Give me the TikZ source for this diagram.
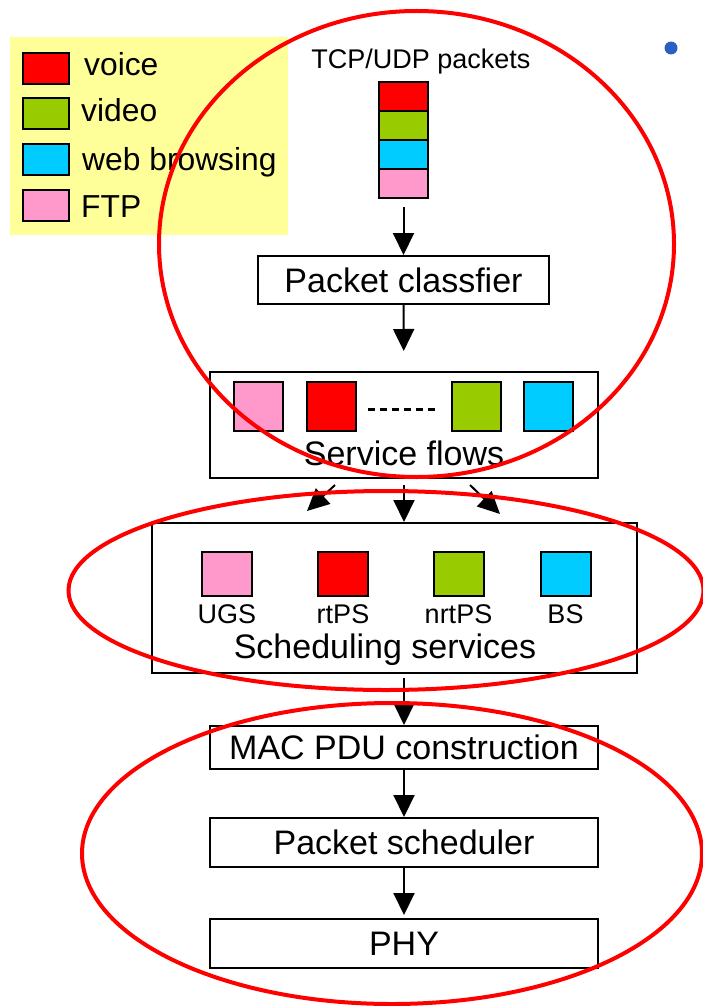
\documentclass[tikz,border=0pt]{standalone}
\usepackage{fontspec}
\setmainfont{Liberation Sans}
\usetikzlibrary{positioning, arrows.meta, shapes.geometric, calc}
\definecolor{pktred}{RGB}{255,0,0}
\definecolor{pktgreen}{RGB}{153,204,0}
\definecolor{pktcyan}{RGB}{0,204,255}
\definecolor{pktpink}{RGB}{255,153,204}
\definecolor{notepad}{RGB}{255,255,153}
\definecolor{bulletblue}{RGB}{45,95,195}
\newcommand{\BigText}{\fontsize{34}{40}\selectfont}
\newcommand{\MidText}{\fontsize{31.8}{37}\selectfont}
\newcommand{\SmallText}{\fontsize{27}{32}\selectfont}
\tikzset{
    swatch/.style={draw, line width=2pt, inner sep=0pt, outer sep=0pt},
    key/.style={swatch, minimum width=46pt, minimum height=31pt},
    packet/.style={swatch, minimum width=49pt, minimum height=29pt},
    sq/.style={swatch, minimum size=49pt},
    svc/.style={swatch, minimum width=50pt, minimum height=44pt},
    block/.style={draw, line width=2pt, inner sep=0pt, minimum width=388pt, font=\BigText},
    tag/.style={inner sep=0pt, font=\SmallText},
    flow/.style={line width=2pt, -{Triangle[length=22pt, width=21pt]}},
    ring/.style={ellipse, draw=red, line width=4pt, inner sep=0pt},
}

\begin{document}
\begin{tikzpicture}[x=1pt, y=-1pt]
    \useasboundingbox (0,0) rectangle (703,1006);

    % legend
    \node[fill=notepad, inner sep=0pt, minimum width=278pt, minimum height=197pt] (legend) at (149,136) {};
    \node[key, fill=pktred] (lvoice) at (46,68.5) {};
    \node[key, fill=pktgreen, below=14.5pt of lvoice] (lvideo) {};
    \node[key, fill=pktcyan, below=14.5pt of lvideo] (lweb) {};
    \node[key, fill=pktpink, below=14.5pt of lweb] (lftp) {};
    \node[anchor=base west, inner sep=0pt, font=\MidText] (tvoice) at ($(lvoice.east)+(15,7.5)$) {voice};
    \node[anchor=base west, inner sep=0pt, font=\MidText] (tvideo) at ($(lvideo.east)+(12,7.5)$) {video};
    \node[anchor=base west, inner sep=0pt, font=\MidText] (tweb) at ($(lweb.east)+(13,11)$) {web browsing};
    \node[anchor=base west, inner sep=0pt, font=\MidText] (tftp) at ($(lftp.east)+(12,12)$) {FTP};

    % incoming packets
    \node[tag] (tcpudp) at (421,62) {TCP/UDP packets};
    \node[packet, fill=pktred] (pk1) at (403.5,96.5) {};
    \node[packet, fill=pktgreen, below=0pt of pk1] (pk2) {};
    \node[packet, fill=pktcyan, below=0pt of pk2] (pk3) {};
    \node[packet, fill=pktpink, below=0pt of pk3] (pk4) {};

    \node[block, minimum width=291pt, minimum height=48pt] (classifier) at (403.5,280) {Packet classfier};

    % service flows
    \node[block, minimum height=106pt] (flows) at (404,425) {};
    \node[sq, fill=pktpink] (sf1) at (258.5,406.5) {};
    \node[sq, fill=pktred] (sf2) at (331.5,406.5) {};
    \node[sq, fill=pktgreen] (sf3) at (476.5,406.5) {};
    \node[sq, fill=pktcyan] (sf4) at (548.5,406.5) {};
    \draw[line width=3pt, dash pattern=on 7pt off 5pt] ($(sf2.east)+(12,2.5)$) -- ($(sf3.west)+(-15,2.5)$);
    \node[anchor=base, inner sep=0pt, font=\BigText] (flowstxt) at (404,465) {Service flows};

    % scheduling services
    \node[block, minimum width=485pt, minimum height=150pt] (sched) at (394.5,598) {};
    \node[svc, fill=pktpink] (ugs) at (227,573.5) {};
    \node[svc, fill=pktred] (rtps) at (343,573.5) {};
    \node[svc, fill=pktgreen] (nrtps) at (458.5,573.5) {};
    \node[svc, fill=pktcyan] (bs) at (565.5,573.5) {};
    \node[tag, below=9pt of ugs] (ugstxt) {UGS};
    \node[tag, below=9pt of rtps] (rtpstxt) {rtPS};
    \node[tag, below=9pt of nrtps] (nrtpstxt) {nrtPS};
    \node[tag, below=9pt of bs] (bstxt) {BS};
    \node[anchor=base, inner sep=0pt, font=\BigText] (schedtxt) at (385,658) {Scheduling services};

    \node[block, minimum height=43pt] (mac) at (404,747.5) {MAC PDU construction};
    \node[block, minimum height=49pt] (psched) at (404,842.5) {Packet scheduler};
    \node[block, minimum height=49pt] (phy) at (404,943.5) {PHY};

    % arrows
    \draw[flow, shorten <=9pt] (pk4) -- (classifier);
    \draw[flow, shorten >=20pt] (classifier) -- (flows);
    \draw[flow, shorten <=6pt] (flows.south) -- (flows.south |- sched.north);
    \coordinate (fleft) at (307,511);
    \coordinate (fright) at (500,514);
    \draw[flow] ($(flows.south)+(-69,6)$) -- (fleft);
    \draw[flow] ($(flows.south)+(66,6)$) -- (fright);
    \draw[flow, shorten <=4pt] (sched.south -| mac.north) -- (mac);
    \draw[flow] (mac) -- (psched);
    \draw[flow, shorten >=3pt] (psched) -- (phy);

    % red marks
    \node[ring, minimum width=515pt, minimum height=466pt] (ringtop) at (416.5,244) {};
    \node[ring, minimum width=635pt, minimum height=199pt] (ringmid) at (386,590.5) {};
    \node[ring, minimum width=620pt, minimum height=301pt] (ringlow) at (392,853.5) {};

    \node[circle, fill=bulletblue, inner sep=0pt, minimum size=13pt] (bullet) at (671,48) {};
\end{tikzpicture}
\end{document}
